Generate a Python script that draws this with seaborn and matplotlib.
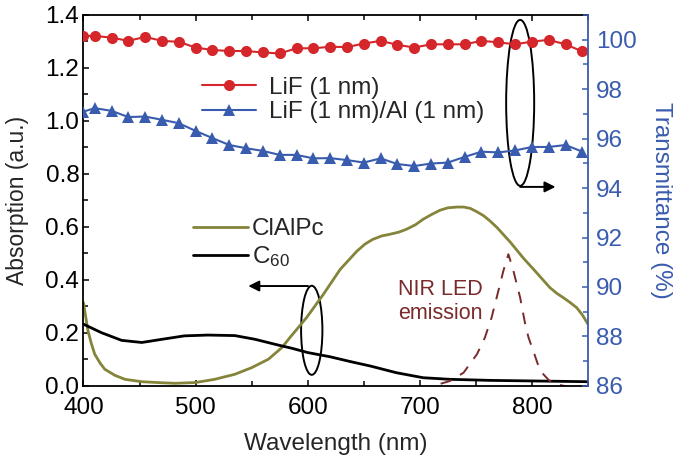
import numpy as np
import pandas as pd
import seaborn as sns
import matplotlib.pyplot as plt
from matplotlib.patches import Ellipse
from matplotlib.lines import Line2D
from matplotlib.ticker import MultipleLocator

# Transmittance of the thin interlayers (right axis), one marker every 15 nm
lif_nm = [400, 410, 425, 440, 455, 470, 485, 500, 515, 530, 545, 560, 575, 590, 605,
          620, 635, 650, 665, 680, 695, 710, 725, 740, 755, 770, 785, 800, 815, 830, 845]
lif_T = [100.15, 100.15, 100.08, 99.95, 100.11, 99.95, 99.91, 99.68, 99.58, 99.54, 99.54,
         99.48, 99.44, 99.65, 99.65, 99.71, 99.70, 99.84, 99.95, 99.79, 99.68, 99.81,
         99.81, 99.81, 99.95, 99.89, 99.81, 99.92, 99.99, 99.81, 99.52]
lifal_T = [97.09, 97.23, 97.12, 96.87, 96.89, 96.76, 96.62, 96.31, 96.02, 95.74, 95.61,
           95.50, 95.34, 95.34, 95.20, 95.21, 95.13, 95.03, 95.20, 94.97, 94.89, 94.99,
           95.03, 95.26, 95.47, 95.44, 95.52, 95.66, 95.66, 95.74, 95.47]

# Absorption spectra (left axis)
clalpc_nm = [400, 402, 404, 407, 410, 415, 419, 428, 437, 452, 470, 482, 500, 517, 535,
             550, 565, 577, 584, 599, 614, 629, 644, 651, 658, 666, 673, 681, 688, 696,
             703, 711, 718, 725, 733, 739, 745, 751, 757, 763, 769, 781, 792, 804, 816,
             822, 828, 834, 840, 845, 850]
clalpc_abs = [0.314, 0.26, 0.208, 0.16, 0.120, 0.085, 0.063, 0.040, 0.025, 0.016, 0.012,
              0.010, 0.013, 0.025, 0.044, 0.069, 0.101, 0.145, 0.182, 0.258, 0.346, 0.440,
              0.509, 0.535, 0.553, 0.566, 0.572, 0.580, 0.591, 0.608, 0.629, 0.648, 0.663,
              0.672, 0.675, 0.675, 0.670, 0.657, 0.642, 0.621, 0.597, 0.541, 0.484, 0.428,
              0.371, 0.350, 0.333, 0.315, 0.295, 0.268, 0.233]

c60_nm = [400, 416, 434, 452, 470, 490, 511, 535, 553, 571, 586, 600, 620, 638, 656,
          679, 703, 727, 763, 798, 850]
c60_abs = [0.233, 0.201, 0.172, 0.164, 0.176, 0.189, 0.192, 0.190, 0.176, 0.157, 0.142,
           0.126, 0.110, 0.092, 0.075, 0.050, 0.031, 0.025, 0.021, 0.019, 0.016]

led_nm = [700, 712, 727, 739, 751, 758, 764, 770, 774.5, 779, 783.5, 789.5, 794, 797,
          801, 805, 810, 815, 822, 835, 850]
led_em = [-0.01, 0.0, 0.019, 0.050, 0.120, 0.182, 0.258, 0.358, 0.434, 0.497, 0.434,
          0.333, 0.233, 0.182, 0.135, 0.085, 0.045, 0.022, 0.006, -0.005, -0.01]

red = '#d5262b'
blue = '#3a5cae'
olive = '#84843a'
darkred = '#7a2a2a'

sns.set_theme(style='ticks')
plt.rcParams['font.family'] = ['Liberation Sans', 'DejaVu Sans']
plt.rcParams['mathtext.fontset'] = 'custom'
plt.rcParams['mathtext.rm'] = 'Liberation Sans'
plt.rcParams['mathtext.default'] = 'regular'
fs = 17.5

fig = plt.figure(figsize=(6.75, 4.65), dpi=100)
ax = fig.add_axes([0.1237, 0.170, 0.7474, 0.798])
ax2 = ax.twinx()

sns.lineplot(x=clalpc_nm, y=clalpc_abs, ax=ax, color=olive, lw=2.0)
sns.lineplot(x=c60_nm, y=c60_abs, ax=ax, color='black', lw=2.0)
sns.lineplot(x=led_nm, y=led_em, ax=ax, color=darkred, lw=1.4, linestyle=(0, (6, 5)))

sns.lineplot(x=lif_nm, y=lif_T, ax=ax2, color=red, lw=1.5, marker='o',
             markersize=8, markeredgewidth=0)
sns.lineplot(x=lif_nm, y=lifal_T, ax=ax2, color=blue, lw=1.5, marker='^',
             markersize=9.2, markeredgewidth=0)

ax.set_xlim(400, 850)
ax.set_ylim(0, 1.4)
ax2.set_ylim(86, 101)

ax.xaxis.set_major_locator(MultipleLocator(100))
ax.xaxis.set_minor_locator(MultipleLocator(50))
ax.yaxis.set_major_locator(MultipleLocator(0.2))
ax.yaxis.set_minor_locator(MultipleLocator(0.1))
ax2.yaxis.set_major_locator(MultipleLocator(2))
ax2.yaxis.set_minor_locator(MultipleLocator(1))
ax.yaxis.set_major_formatter(plt.FuncFormatter(lambda v, p: f'{v:.1f}'))

ax.tick_params(which='both', direction='in', top=True, right=False, labelsize=fs,
               colors='black', width=1.1)
ax.tick_params(axis='x', which='major', length=4.5, pad=8)
ax.tick_params(axis='y', which='major', length=4.5, pad=3)
ax.tick_params(which='minor', length=3.5)
ax2.tick_params(which='both', direction='in', labelsize=fs, colors=blue, width=1.1)
ax2.tick_params(which='major', length=4.5, pad=6)
ax2.tick_params(which='minor', length=3.5)

for s in ['left', 'bottom', 'top']:
    ax.spines[s].set_linewidth(1.3)
    ax.spines[s].set_color('black')
ax.spines['right'].set_visible(False)
ax2.spines['left'].set_visible(False)
ax2.spines['top'].set_visible(False)
ax2.spines['bottom'].set_visible(False)
ax2.spines['right'].set_color(blue)
ax2.spines['right'].set_linewidth(1.3)

ax.set_xlabel('Wavelength (nm)', fontsize=fs, labelpad=10)
ax.set_ylabel('Absorption (a.u.)', fontsize=16.5, labelpad=12)
ax2.set_ylabel('Transmittance (%)', fontsize=fs, color=blue, rotation=270, labelpad=25)

# legends
h1 = [Line2D([], [], color=red, lw=1.5, marker='o', markersize=8, markeredgewidth=0),
      Line2D([], [], color=blue, lw=1.5, marker='^', markersize=9.2, markeredgewidth=0)]
ax2.legend(h1, ['LiF (1 nm)', 'LiF (1 nm)/Al (1 nm)'], loc='center left',
           bbox_to_anchor=(0.234, 0.771), frameon=False, fontsize=fs,
           borderpad=0, borderaxespad=0, handlelength=2.23, handletextpad=0.54,
           labelspacing=0.1)
h2 = [Line2D([], [], color=olive, lw=2.0), Line2D([], [], color='black', lw=2.0)]
ax.legend(h2, ['ClAlPc', r'C$_{60}$'], loc='center left', bbox_to_anchor=(0.218, 0.383),
          frameon=False, fontsize=fs, borderpad=0, borderaxespad=0, handlelength=2.23,
          handletextpad=0.16, labelspacing=0.18)

# ellipses and arrows pointing to the matching axis
ax.add_patch(Ellipse((789.5, 1.068), 25, 0.626, fill=False, ec='black', lw=1.4))
ax.annotate('', xy=(821, 0.751), xytext=(789.5, 0.751),
            arrowprops=dict(arrowstyle='-|>', color='black', lw=1.4, mutation_scale=16,
                            shrinkA=0, shrinkB=0))
ax.add_patch(Ellipse((603.6, 0.210), 19, 0.336, fill=False, ec='black', lw=1.4))
ax.annotate('', xy=(547, 0.377), xytext=(600.3, 0.377),
            arrowprops=dict(arrowstyle='-|>', color='black', lw=1.4, mutation_scale=16,
                            shrinkA=0, shrinkB=0))

ax.text(718, 0.32, 'NIR LED\nemission', color=darkred, fontsize=15.5, ha='center',
        va='center', linespacing=1.2)

fig.savefig('out.png', dpi=100)
